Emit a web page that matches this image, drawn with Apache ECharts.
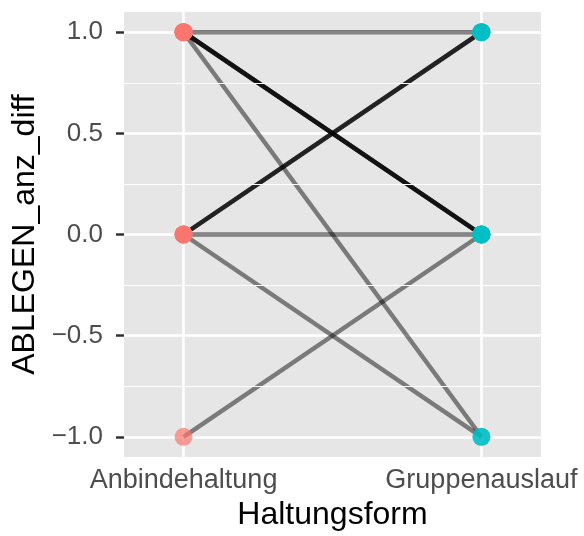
<!DOCTYPE html>
<html>
<head>
<meta charset="utf-8">
<script src="https://cdn.jsdelivr.net/npm/echarts@6/dist/echarts.min.js"></script>
<style>
html,body{margin:0;padding:0;background:#fff;}
#chart{width:584px;height:536px;}
</style>
</head>
<body>
<div id="chart"></div>
<script>
// categories and paired values (one entry per animal)
const categories = ['Anbindehaltung', 'Gruppenauslauf'];
const anbindehaltung = [1, 1, 1, 1, 1, 1, 0, 0, 0, 0, 0, -1];
const gruppenauslauf = [1, 0, 0, 0, 0, -1, 1, 1, 1, 0, -1, 0];
const yTicks = [-1, -0.5, 0, 0.5, 1];
const yMinor = [-0.75, -0.25, 0.25, 0.75];
const xTicks = [1, 2];

const FONT = '"Liberation Sans", Arial, sans-serif';

const chart = echarts.init(document.getElementById('chart'), null, {renderer: 'canvas'});

const series = [];
// minor grid lines
series.push({
  type: 'line', data: [], z: 1, silent: true,
  markLine: {
    silent: true, symbol: 'none', animation: false,
    label: {show: false},
    lineStyle: {color: '#ffffff', width: 1.2, type: 'solid'},
    data: yMinor.map(v => ({yAxis: v}))
  }
});
// paired lines
anbindehaltung.forEach((a, i) => {
  series.push({
    type: 'line', z: 2, silent: true, symbol: 'none',
    data: [[1, a], [2, gruppenauslauf[i]]],
    lineStyle: {color: '#000000', opacity: 0.47, width: 4.5}
  });
});
// points
series.push({
  type: 'scatter', z: 3, silent: true, symbolSize: 18,
  data: anbindehaltung.map(v => [1, v]),
  itemStyle: {color: '#F8766D', opacity: 0.7}
});
series.push({
  type: 'scatter', z: 3, silent: true, symbolSize: 18,
  data: gruppenauslauf.map(v => [2, v]),
  itemStyle: {color: '#00BFC4', opacity: 0.7}
});

chart.setOption({
  animation: false,
  backgroundColor: '#ffffff',
  grid: {left: 124, right: 43, top: 12, bottom: 78, show: true, backgroundColor: '#E6E6E6', borderWidth: 0, containLabel: false},
  xAxis: {
    type: 'value', min: 0.8, max: 2.2,
    name: 'Haltungsform', nameLocation: 'middle', nameGap: 42,
    nameTextStyle: {fontFamily: FONT, fontSize: 32, color: '#000000'},
    axisLine: {show: false},
    axisTick: {show: true, customValues: xTicks, length: 8, lineStyle: {color: '#333333', width: 2.5}},
    axisLabel: {show: true, customValues: xTicks, margin: 10, fontFamily: FONT, fontSize: 27, color: '#4D4D4D',
      formatter: v => categories[Math.round(v) - 1] || ''},
    splitLine: {show: true, lineStyle: {color: '#ffffff', width: 2.5}}
  },
  yAxis: {
    type: 'value', min: -1.1, max: 1.1,
    name: 'ABLEGEN_anz_diff', nameLocation: 'middle', nameGap: 73, nameRotate: 90,
    nameTextStyle: {fontFamily: FONT, fontSize: 32, color: '#000000'},
    axisLine: {show: false},
    axisTick: {show: true, customValues: yTicks, length: 8, lineStyle: {color: '#333333', width: 2.5}},
    axisLabel: {show: true, customValues: yTicks, margin: 21, fontFamily: FONT, fontSize: 26, color: '#4D4D4D',
      formatter: v => (v < 0 ? '\u2212' : '') + Math.abs(v).toFixed(1)},
    splitLine: {show: true, lineStyle: {color: '#ffffff', width: 2.5}}
  },
  series: series
});
</script>
</body>
</html>
